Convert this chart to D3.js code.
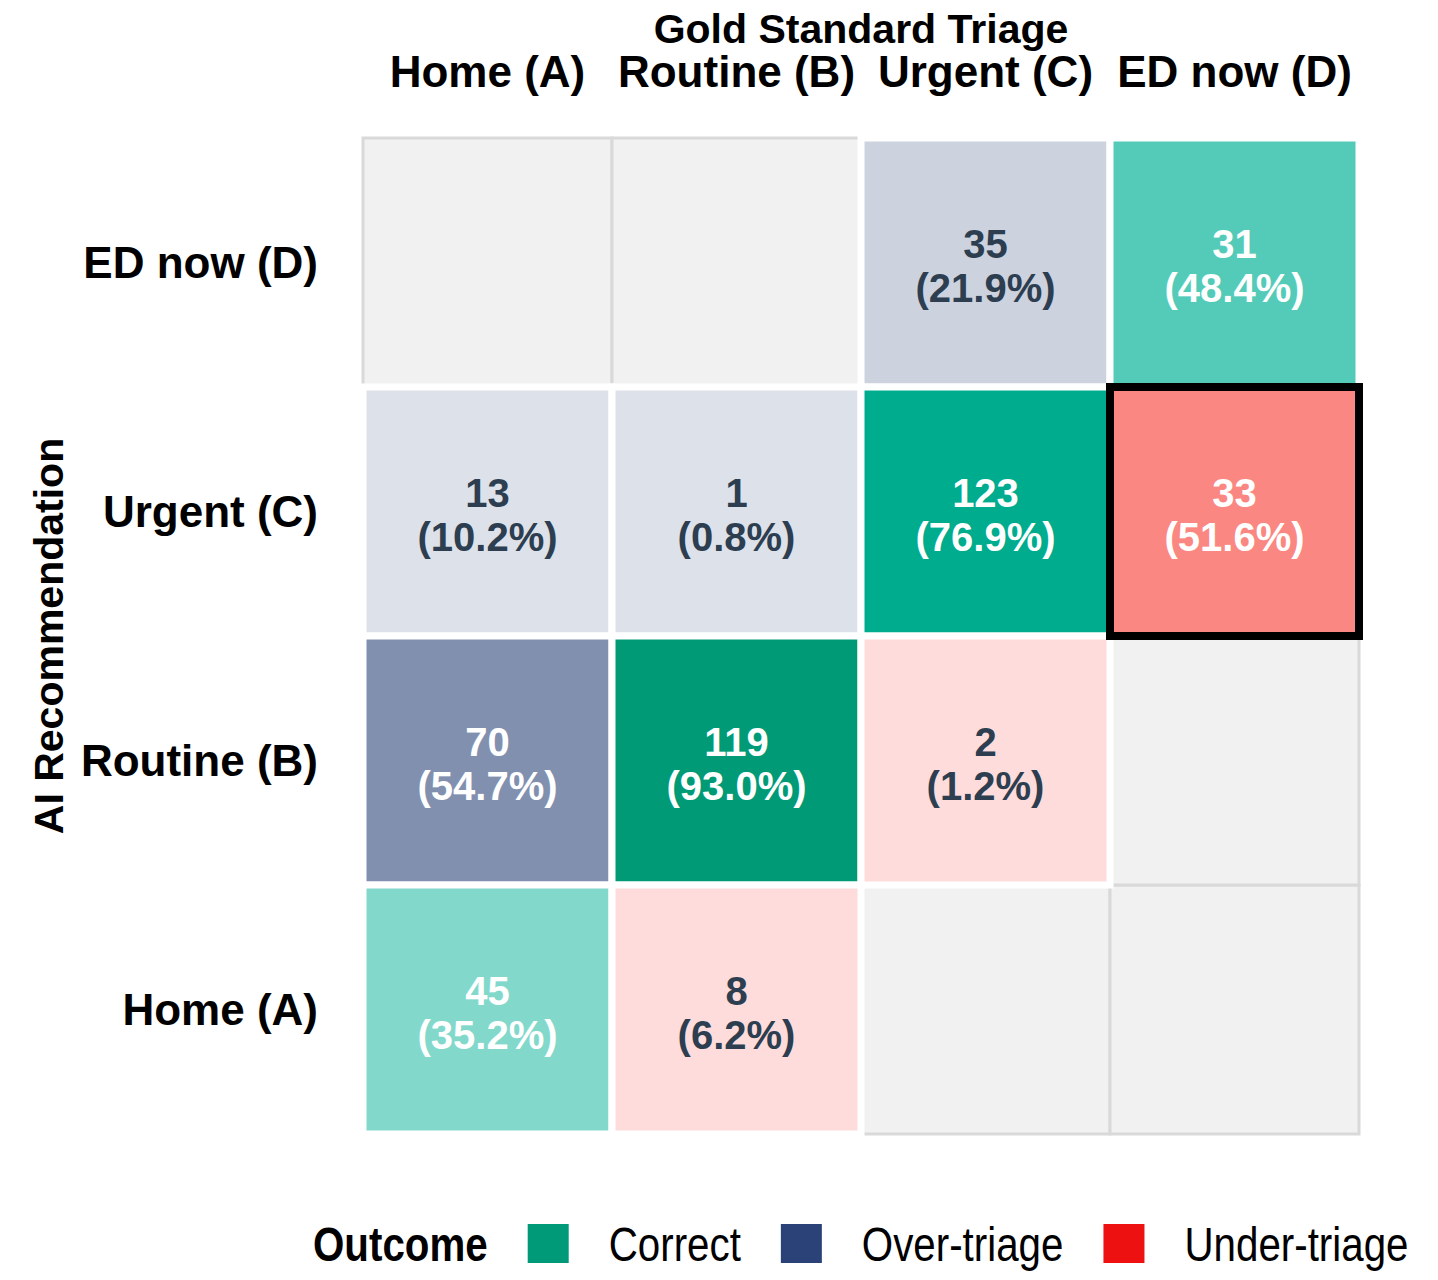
<!DOCTYPE html>
<html>
<head>
<meta charset="utf-8">
<script src="https://cdn.jsdelivr.net/npm/d3@7"></script>
<style>
  html, body { margin: 0; padding: 0; background: #ffffff; }
  svg { display: block; }
</style>
</head>
<body>
<svg id="chart" width="1438" height="1280"></svg>
<script>
// ---------- data ----------
const goldLevels = ["Home (A)", "Routine (B)", "Urgent (C)", "ED now (D)"];
const aiLevels = ["Home (A)", "Routine (B)", "Urgent (C)", "ED now (D)"];
// one entry per filled cell: AI recommendation, gold standard, count, column percent
const cellAI   = ["ED now (D)", "ED now (D)", "Urgent (C)", "Urgent (C)", "Urgent (C)", "Urgent (C)", "Routine (B)", "Routine (B)", "Routine (B)", "Home (A)", "Home (A)"];
const cellGold = ["Urgent (C)", "ED now (D)", "Home (A)", "Routine (B)", "Urgent (C)", "ED now (D)", "Home (A)", "Routine (B)", "Urgent (C)", "Home (A)", "Routine (B)"];
const cellN    = [35, 31, 13, 1, 123, 33, 70, 119, 2, 45, 8];
const cellPct  = [21.9, 48.4, 10.2, 0.8, 76.9, 51.6, 54.7, 93.0, 1.2, 35.2, 6.2];
const outcomes = ["Correct", "Over-triage", "Under-triage"];
const outcomeColors = ["#009a78", "#2b4278", "#ee1111"];
const highlightAI = "Urgent (C)";
const highlightGold = "ED now (D)";
const titleTop = "Gold Standard Triage";
const titleLeft = "AI Recommendation";
const legendTitle = "Outcome";

(function () {
// ---------- derived ----------
const cells = cellN.map((n, i) => {
  const ai = cellAI[i], gold = cellGold[i];
  const ia = aiLevels.indexOf(ai), ig = goldLevels.indexOf(gold);
  const outcome = ia === ig ? "Correct" : (ia > ig ? "Over-triage" : "Under-triage");
  return { ai, gold, n, pct: cellPct[i], outcome };
});
const maxPct = d3.max(cells, d => d.pct);

const svg = d3.select("#chart");
const gLeft = 363, gRight = 1359, gTop = 138, gBottom = 1134;

const x = d3.scaleBand().domain(goldLevels).range([gLeft, gRight]).padding(0);
const y = d3.scaleBand().domain(aiLevels.slice().reverse()).range([gTop, gBottom]).padding(0);
const color = d3.scaleOrdinal().domain(outcomes).range(outcomeColors);
// tile tint at full intensity (slightly extended beyond the key colour, as in the print)
const tintFull = d3.scaleOrdinal().domain(outcomes)
  .range([d3.rgb(-75, 155, 118), d3.rgb(43, 66, 120), d3.rgb(246, 38, 28)]);
const alpha = d3.scaleLinear().domain([0, maxPct]).range([0, 1]).clamp(true);
const alphaOf = p => Math.max(0.16, alpha(p));
const fillOf = d => d3.rgb(d3.interpolateRgb(d3.rgb(255, 255, 255), tintFull(d.outcome))(alphaOf(d.pct))).formatHex();

// background tiles (all cells)
const grid = d3.cross(goldLevels, aiLevels);
svg.append("g").selectAll("rect").data(grid).join("rect")
  .attr("x", d => x(d[0])).attr("y", d => y(d[1]))
  .attr("width", x.bandwidth()).attr("height", y.bandwidth())
  .attr("fill", "#f1f1f1").attr("stroke", "#d9d9d9").attr("stroke-width", 3);

// data tiles
svg.append("g").selectAll("rect").data(cells).join("rect")
  .attr("x", d => x(d.gold)).attr("y", d => y(d.ai))
  .attr("width", x.bandwidth()).attr("height", y.bandwidth())
  .attr("fill", fillOf)
  .attr("stroke", "#ffffff").attr("stroke-width", 7);

// labels
const fontMain = "'Liberation Sans', Arial, Helvetica, sans-serif";
const lab = svg.append("g").selectAll("text").data(cells).join("text")
  .attr("x", d => x(d.gold) + x.bandwidth() / 2)
  .attr("y", d => y(d.ai) + y.bandwidth() / 2)
  .attr("text-anchor", "middle")
  .attr("font-family", fontMain).attr("font-weight", "bold").attr("font-size", 40)
  .attr("fill", d => alphaOf(d.pct) > 0.3 ? "#ffffff" : "#2c3e50");
lab.append("tspan").attr("x", d => x(d.gold) + x.bandwidth() / 2).attr("dy", -5).text(d => d.n);
lab.append("tspan").attr("x", d => x(d.gold) + x.bandwidth() / 2).attr("dy", 44)
  .text(d => "(" + d.pct.toFixed(1) + "%)");

// highlight
svg.append("rect")
  .attr("x", x(highlightGold)).attr("y", y(highlightAI))
  .attr("width", x.bandwidth()).attr("height", y.bandwidth())
  .attr("fill", "none").attr("stroke", "#000000").attr("stroke-width", 8);

// axes
const axT = svg.append("g").attr("transform", `translate(0,${gTop})`)
  .call(d3.axisTop(x).tickSize(0).tickPadding(51));
axT.select(".domain").remove();
axT.selectAll("text").attr("font-family", fontMain).attr("font-weight", "bold")
  .attr("font-size", 44).attr("fill", "#000");

const axL = svg.append("g").attr("transform", `translate(${gLeft},0)`)
  .call(d3.axisLeft(y).tickSize(0).tickPadding(45));
axL.select(".domain").remove();
axL.selectAll("text").attr("font-family", fontMain).attr("font-weight", "bold")
  .attr("font-size", 44).attr("fill", "#000").attr("dy", "0.36em");

// titles
svg.append("text").attr("x", (gLeft + gRight) / 2).attr("y", 43)
  .attr("text-anchor", "middle").attr("font-family", fontMain).attr("font-weight", "bold")
  .attr("font-size", 41).attr("fill", "#000").text(titleTop);
svg.append("text").attr("transform", `translate(63,${(gTop + gBottom) / 2}) rotate(-90)`)
  .attr("text-anchor", "middle").attr("font-family", fontMain).attr("font-weight", "bold")
  .attr("font-size", 41).attr("fill", "#000").text(titleLeft);

// legend (condensed lettering)
const leg = svg.append("g");
let cx = 313;
const baseY = 1261;
function legText(str, bold) {
  const s = 0.84;
  const g = leg.append("g").attr("transform", `translate(${cx},${baseY}) scale(${s},1)`);
  const t = g.append("text").attr("x", 0).attr("y", 0)
    .attr("font-family", fontMain).attr("font-weight", bold ? "bold" : "normal")
    .attr("font-size", 48).attr("fill", "#000").text(str);
  return t.node().getComputedTextLength() * s;
}
cx += legText(legendTitle, true) + 40;
outcomes.forEach((o) => {
  leg.append("rect").attr("x", cx).attr("y", 1224).attr("width", 41).attr("height", 39)
    .attr("fill", color(o));
  cx += 41 + 40;
  cx += legText(o, false) + 40;
});
})();
</script>
</body>
</html>
